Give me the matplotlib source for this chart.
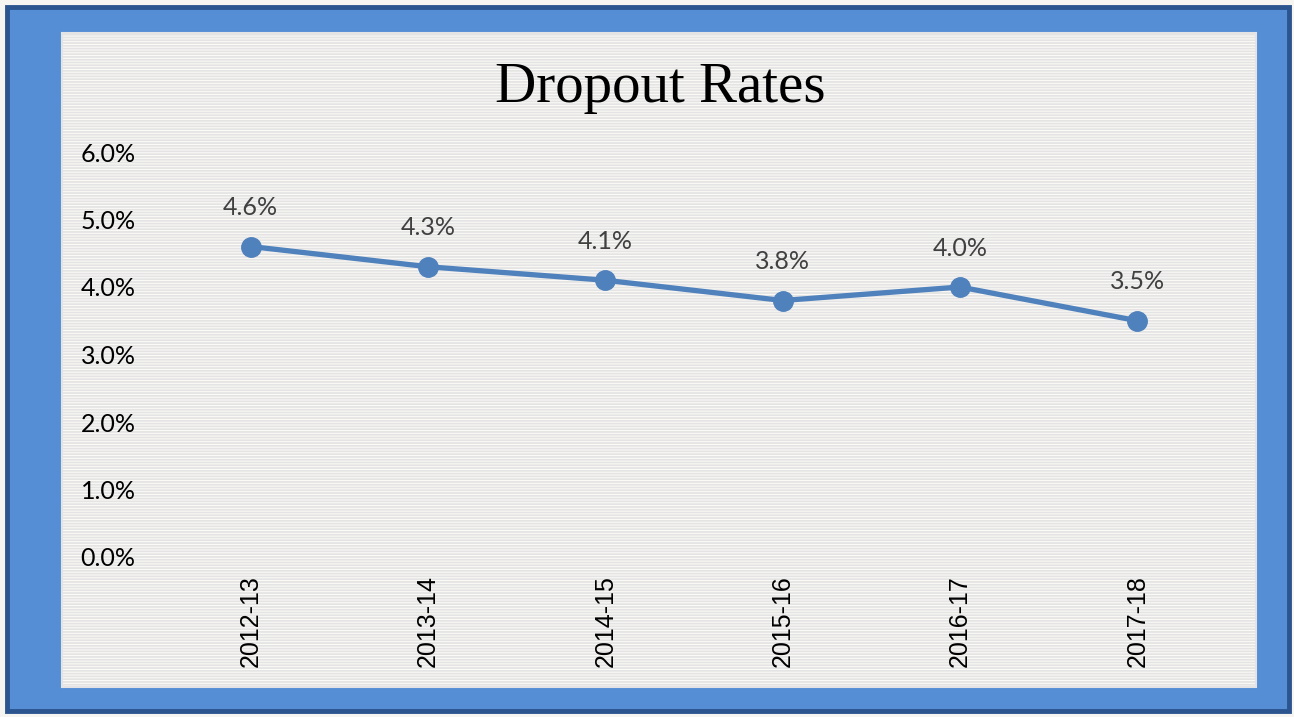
import matplotlib
matplotlib.use("Agg")
import matplotlib.pyplot as plt
from matplotlib.patches import Rectangle
from matplotlib.ticker import PercentFormatter

# data
years = ["2012-13", "2013-14", "2014-15", "2015-16", "2016-17", "2017-18"]
rates = [4.6, 4.3, 4.1, 3.8, 4.0, 3.5]
y_ticks = [0, 1, 2, 3, 4, 5, 6]

W, H = 1294, 717
fig = plt.figure(figsize=(W / 100, H / 100), dpi=100)
fig.patch.set_facecolor("#f6f5f1")

# cornice blu + pannello a righe (pixel coords)
bg = fig.add_axes([0, 0, 1, 1], zorder=0)
bg.set_xlim(0, W)
bg.set_ylim(H, 0)
bg.axis("off")
bg.add_patch(Rectangle((7, 7), 1282, 704, facecolor="#558ed5",
                       edgecolor="#2c5590", linewidth=3.5))
plt.rcParams["hatch.linewidth"] = 1.3
plt.rcParams["hatch.color"] = "#e6dfc9"
bg.add_patch(Rectangle((62, 33), 1194, 654, facecolor="#fdfcf8",
                       edgecolor="#e4e4e4", linewidth=1.5, hatch="------"))

ax = fig.add_axes([162 / W, 1 - 557 / H, (1226 - 162) / W, (557 - 152) / H], zorder=1)
ax.set_facecolor("none")
x = list(range(len(years)))
ax.plot(x, rates, color="#4f81bd", linewidth=3.8, marker="o", markersize=14,
        solid_capstyle="round")
for xi, r in zip(x, rates):
    ax.annotate(f"{r:.1f}%", (xi, r), xytext=(0, 28), textcoords="offset points",
                ha="center", va="center", fontsize=18, color="#404040", family="Lato")

ax.set_xlim(-0.5, len(years) - 0.5)
ax.set_ylim(0, 6)
ax.set_yticks(y_ticks)
ax.yaxis.set_major_formatter(PercentFormatter(decimals=1))
ax.set_xticks(x)
ax.set_xticklabels(years, rotation=90, family="Liberation Sans", fontsize=18)
for lab in ax.get_yticklabels():
    lab.set_family("Lato")
    lab.set_fontsize(18)
ax.tick_params(axis="both", length=0, colors="black")
ax.tick_params(axis="y", pad=19)
ax.tick_params(axis="x", pad=13)
for s in ax.spines.values():
    s.set_visible(False)

fig.text(660 / W, 1 - 88 / H, "Dropout Rates", ha="center", va="center",
         fontsize=41, family="Liberation Serif", color="black")

fig.savefig("out.png", dpi=100, facecolor=fig.get_facecolor())
